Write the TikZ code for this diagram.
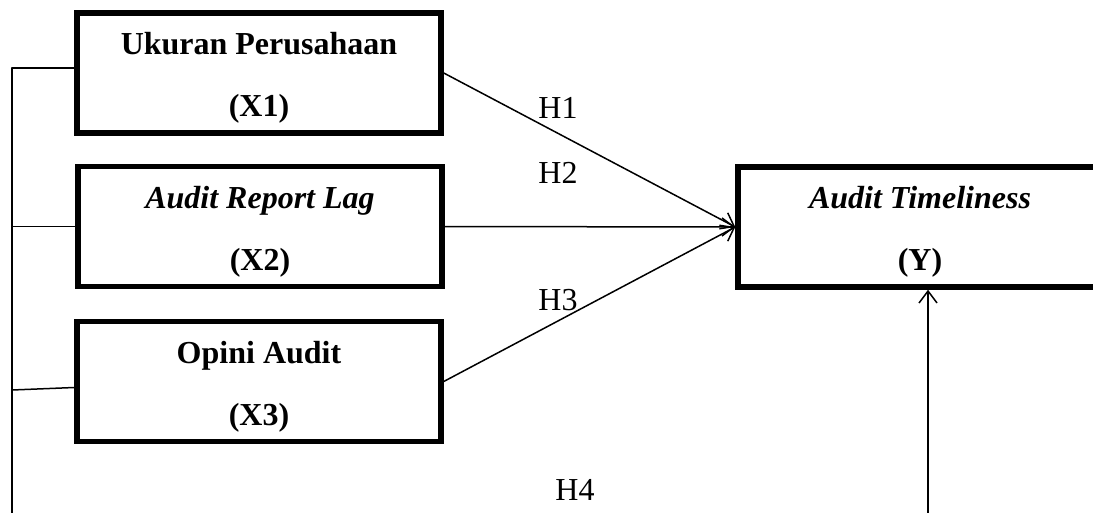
\documentclass[tikz,border=0pt]{standalone}
\usepackage{fontspec}
\setmainfont{Liberation Serif}
\usetikzlibrary{arrows.meta}

\begin{document}
\begin{tikzpicture}[line cap=round,line join=round,>={Straight Barb[length=12pt,width=18pt]},x=1pt,y=-1pt,
		var/.style={draw,line width=5.5pt,line join=miter,minimum width=364pt,minimum height=120pt,inner sep=0pt,align=center,font=\fontsize{32}{38}\selectfont\bfseries},
		hyp/.style={font=\fontsize{32}{38}\selectfont},
		link/.style={line width=1.5pt}]
		\useasboundingbox (0,0) rectangle (1093,512);
		\clip (0,0) rectangle (1093,512);
		\node[var] (x1) at (259,73) {\rule{0pt}{32pt}Ukuran Perusahaan\\[24pt](X1)};
		\node[var] (x2) at (260,226.5) {\rule{0pt}{32pt}\textit{Audit Report Lag}\\[24pt](X2)};
		\node[var] (x3) at (259,381.5) {\rule{0pt}{32pt}Opini Audit\\[24pt](X3)};
		\node[var] (y) at (920,227) {\rule{0pt}{32pt}\textit{Audit Timeliness}\\[24pt](Y)};
		\coordinate (lb) at (12,520);
		\coordinate (rb) at (928,520);
		\draw [link,->] (x1.east) -- (y.west);
		\draw [link,->] (x2.east) -- (y.west);
		\draw [link,->] (x3.east) -- (y.west);
		\draw [link] (lb) |- ([yshift=5pt]x1.west);
		\draw [link] (lb |- x2.west) -- (x2.west);
		\draw [link] (lb |- 0,390) -- ([yshift=-6pt]x3.west);
		\draw [link,->] (rb) -- (rb |- y.south);
		\node[hyp] (h1) at (558,108) {H1};
		\node[hyp] (h2) at (558,173) {H2};
		\node[hyp] (h3) at (558,300) {H3};
		\node[hyp] (h4) at (575,490) {H4};
	\end{tikzpicture}
\end{document}
